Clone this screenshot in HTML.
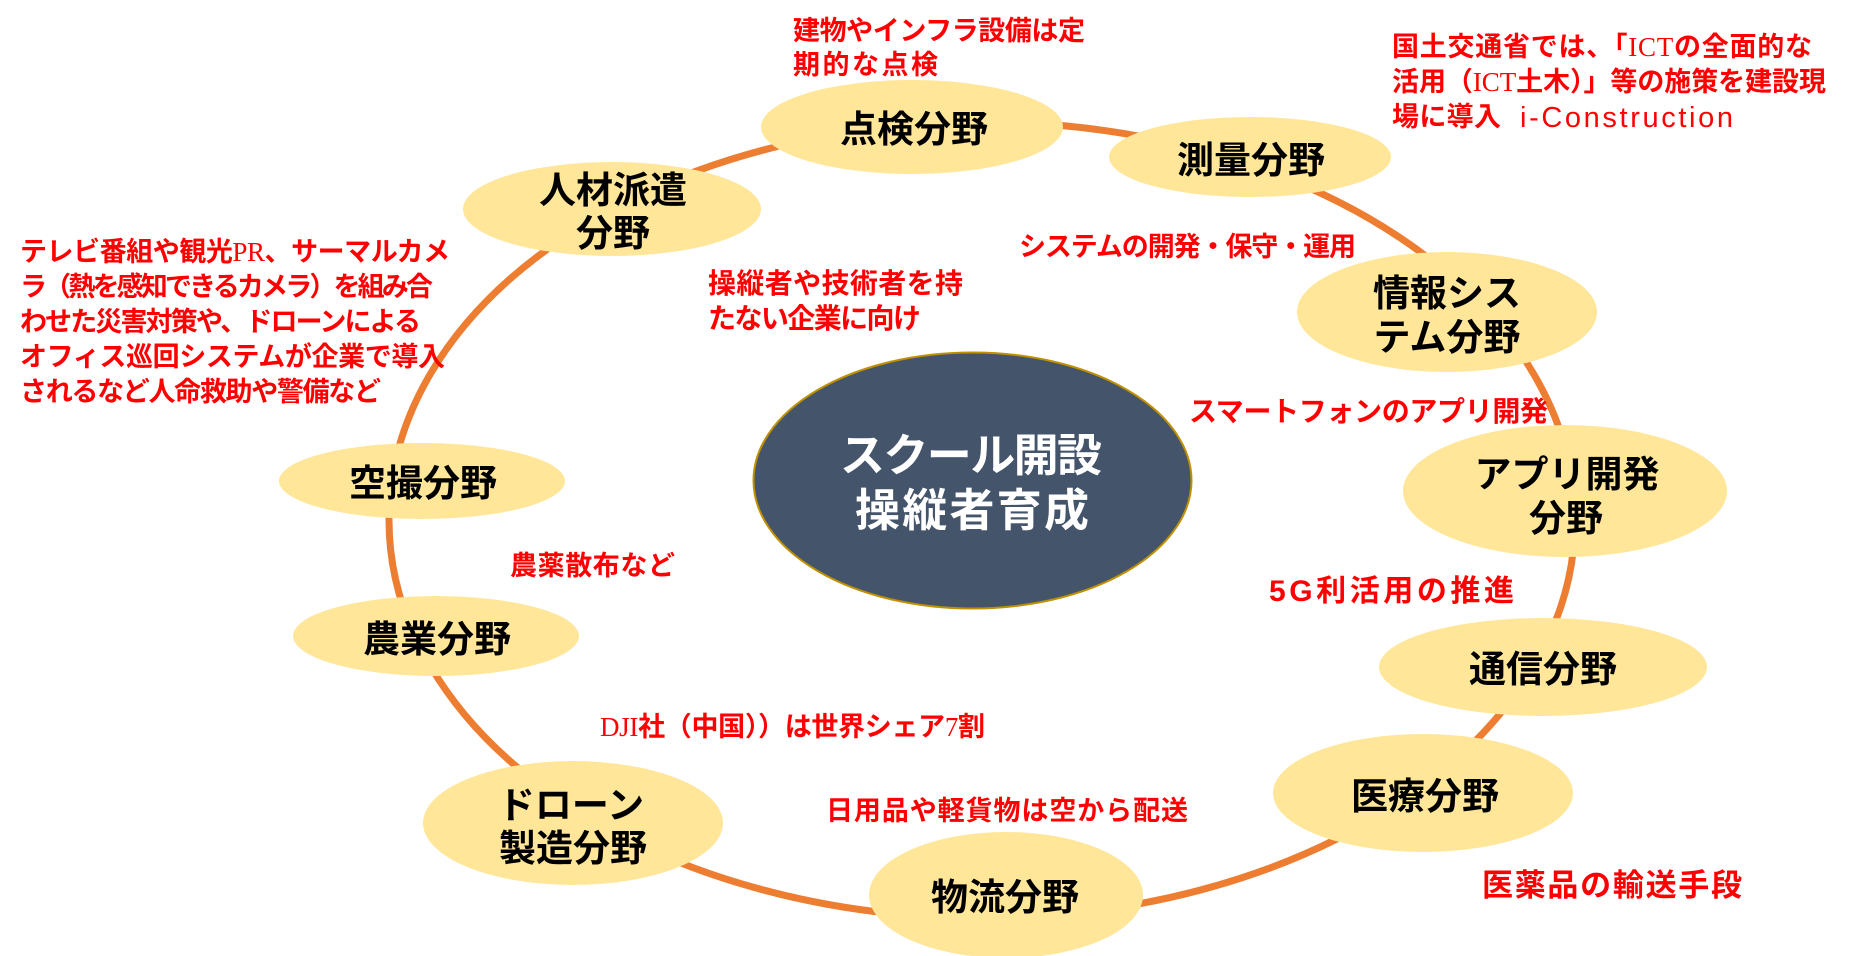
<!DOCTYPE html>
<html>
<head>
<meta charset="utf-8">
<style>
  html, body { margin:0; padding:0; background:#ffffff; }
  body { width:1849px; height:956px; overflow:hidden; }
  svg { display:block; }
  .lbl { font-family:"Liberation Sans","Noto Sans CJK JP",sans-serif; font-weight:bold; font-size:37px; fill:#000; text-anchor:middle; }
  .red { font-family:"Liberation Sans","Noto Sans CJK JP",sans-serif; font-weight:bold; fill:#FF0000; }
  .ser { font-family:"Liberation Serif","Noto Serif CJK SC",serif; font-weight:normal; }
  .ctr { font-family:"Liberation Sans","Noto Sans CJK JP",sans-serif; font-weight:bold; font-size:45px; fill:#ffffff; text-anchor:middle; }
</style>
</head>
<body>
<svg width="1849" height="956" viewBox="0 0 1849 956" xmlns="http://www.w3.org/2000/svg">
  <rect x="0" y="0" width="1849" height="956" fill="#ffffff"/>

  <!-- orbit -->
  <ellipse cx="982" cy="520" rx="593" ry="398" fill="none" stroke="#ED7D31" stroke-width="7"/>

  <!-- node ellipses -->
  <g fill="#FFE699">
    <ellipse cx="912" cy="127" rx="151" ry="47"/>
    <ellipse cx="1250" cy="157" rx="141" ry="40"/>
    <ellipse cx="1447" cy="312" rx="150" ry="60"/>
    <ellipse cx="1565" cy="491" rx="162" ry="66"/>
    <ellipse cx="1543" cy="667" rx="164" ry="49"/>
    <ellipse cx="1423" cy="793" rx="150" ry="59"/>
    <ellipse cx="1006" cy="895" rx="137" ry="63"/>
    <ellipse cx="573" cy="823" rx="150" ry="62"/>
    <ellipse cx="436" cy="636" rx="143" ry="40"/>
    <ellipse cx="422" cy="481" rx="143" ry="38"/>
    <ellipse cx="612" cy="209" rx="149" ry="47"/>
  </g>

  <!-- center -->
  <ellipse cx="972.5" cy="480.5" rx="219" ry="128" fill="#44546A" stroke="#BF9000" stroke-width="2"/>
  <text class="ctr" x="971" y="471" textLength="262" lengthAdjust="spacing">スクール開設</text>
  <text class="ctr" x="972" y="526" textLength="234" lengthAdjust="spacing">操縦者育成</text>

  <!-- node labels -->
  <text class="lbl" x="914" y="142">点検分野</text>
  <text class="lbl" x="1251" y="173">測量分野</text>
  <text class="lbl" x="613" y="203">人材派遣</text>
  <text class="lbl" x="613" y="246">分野</text>
  <text class="lbl" x="1447" y="306">情報シス</text>
  <text class="lbl" x="1447" y="350">テム分野</text>
  <text class="lbl" x="1567" y="487">アプリ開発</text>
  <text class="lbl" x="1566" y="531">分野</text>
  <text class="lbl" x="1543" y="682">通信分野</text>
  <text class="lbl" x="1425" y="809">医療分野</text>
  <text class="lbl" x="1005" y="910">物流分野</text>
  <text class="lbl" x="571" y="818">ドローン</text>
  <text class="lbl" x="573" y="861">製造分野</text>
  <text class="lbl" x="437" y="652">農業分野</text>
  <text class="lbl" x="423" y="496">空撮分野</text>

  <!-- red annotations -->
  <text class="red" font-size="27" x="793" y="40" textLength="292" lengthAdjust="spacing">建物やインフラ設備は定</text>
  <text class="red" font-size="27" x="793" y="74" textLength="145" lengthAdjust="spacing">期的な点検</text>

  <text class="red" font-size="27" x="1392" y="56" textLength="420" lengthAdjust="spacing">国土交通省では、「<tspan class="ser">ICT</tspan>の全面的な</text>
  <text class="red" font-size="27" x="1392" y="91" textLength="434" lengthAdjust="spacing">活用（<tspan class="ser">ICT</tspan>土木）」等の施策を建設現</text>
  <text class="red" font-size="27" x="1392" y="126" textLength="109" lengthAdjust="spacing">場に導入</text>
  <text x="1520" y="127" font-family="Liberation Sans, sans-serif" font-size="29" fill="#FF0000" textLength="213" lengthAdjust="spacing">i-Construction</text>

  <text class="red" font-size="28" x="708" y="293" textLength="255" lengthAdjust="spacing">操縦者や技術者を持</text>
  <text class="red" font-size="28" x="708" y="328" textLength="213" lengthAdjust="spacing">たない企業に向け</text>

  <text class="red" font-size="27" x="1019" y="256" textLength="337" lengthAdjust="spacing">システムの開発・保守・運用</text>
  <text class="red" font-size="28" x="1189" y="421" textLength="359" lengthAdjust="spacing">スマートフォンのアプリ開発</text>
  <text class="red" font-size="30" x="1269" y="601" textLength="245" lengthAdjust="spacing">5G利活用の推進</text>
  <text class="red" font-size="31" x="1482" y="896" textLength="260" lengthAdjust="spacing">医薬品の輸送手段</text>
  <text class="red" font-size="27" x="826" y="820" textLength="362" lengthAdjust="spacing">日用品や軽貨物は空から配送</text>
  <text class="red" font-size="27" x="600" y="736" textLength="385" lengthAdjust="spacing"><tspan class="ser">DJI</tspan>社（中国））は世界シェア<tspan class="ser">7</tspan>割</text>
  <text class="red" font-size="27" x="510" y="575" textLength="165" lengthAdjust="spacing">農薬散布など</text>

  <text class="red" font-size="27" x="20" y="261" textLength="430" lengthAdjust="spacing">テレビ番組や観光<tspan class="ser">PR</tspan>、サーマルカメ</text>
  <text class="red" font-size="27" x="20" y="296" textLength="413" lengthAdjust="spacing">ラ（熱を感知できるカメラ）を組み合</text>
  <text class="red" font-size="27" x="20" y="331" textLength="401" lengthAdjust="spacing">わせた災害対策や、ドローンによる</text>
  <text class="red" font-size="27" x="20" y="366" textLength="425" lengthAdjust="spacing">オフィス巡回システムが企業で導入</text>
  <text class="red" font-size="27" x="20" y="401" textLength="361" lengthAdjust="spacing">されるなど人命救助や警備など</text>
</svg>
</body>
</html>
